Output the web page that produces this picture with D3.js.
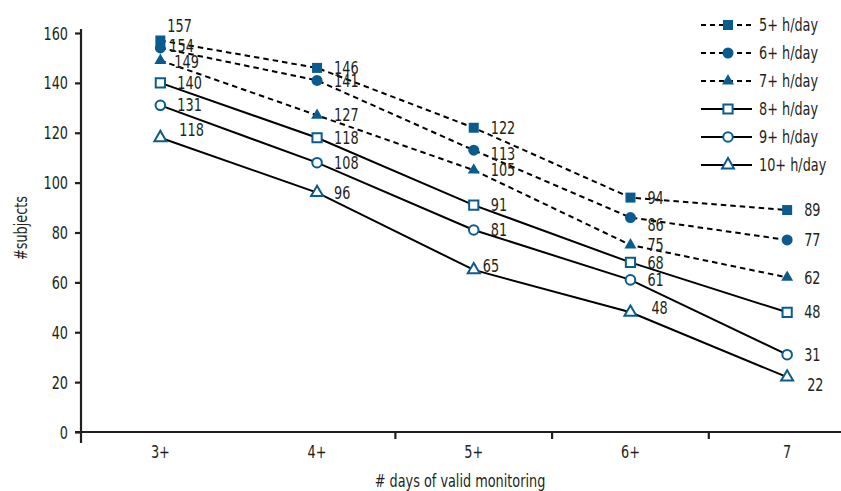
<!DOCTYPE html>
<html>
<head>
<meta charset="utf-8">
<script src="https://cdn.jsdelivr.net/npm/d3@7"></script>
<style>
  body { margin: 0; background: #fff; }
  svg { display: block; font-family: "DejaVu Sans Condensed", "Liberation Sans Narrow", sans-serif; }
</style>
</head>
<body>
<div id="chart"></div>
<script>
const categories = ["3+", "4+", "5+", "6+", "7"];
const seriesNames = ["5+ h/day", "6+ h/day", "7+ h/day", "8+ h/day", "9+ h/day", "10+ h/day"];
const s5 = [157, 146, 122, 94, 89];
const s6 = [154, 141, 113, 86, 77];
const s7 = [149, 127, 105, 75, 62];
const s8 = [140, 118, 91, 68, 48];
const s9 = [131, 108, 81, 61, 31];
const s10 = [118, 96, 65, 48, 22];
const yTicks = [0, 20, 40, 60, 80, 100, 120, 140, 160];

const allSeries = [s5, s6, s7, s8, s9, s10];

// marker style per series
const shapes = [d3.symbolSquare, d3.symbolCircle, d3.symbolTriangle, d3.symbolSquare, d3.symbolCircle, d3.symbolTriangle];
const filled = [true, true, true, false, false, false];
const dashed = [true, true, true, false, false, false];
const symSize = [100, 95, 62, 85, 72, 62];

// label nudges where labels in the original sit off the marker line ("series-point": [dx, dy])
const nudge = {
  "0-0": [-10, -15], "1-0": [-8, -2], "2-0": [-3, 1], "5-0": [2, -8],
  "1-2": [0, 4], "5-2": [-8, -4],
  "1-3": [0, 7], "5-3": [4, -4],
  "5-4": [3, 8]
};

const blue = "#0b5c8e";
const ink = "#231f20";
const squeeze = 0.84; // the original face is a narrow one

// squeeze texts horizontally around their x position
function narrow(sel, extra) {
  sel.each(function () {
    const t = d3.select(this);
    const tx = +t.attr("x") || 0, ty = +t.attr("y") || 0;
    t.attr("x", 0).attr("y", 0)
      .attr("transform", `translate(${tx},${ty}) ${extra || ""} scale(${squeeze},1)`);
  });
}

const width = 841, height = 491;
const svg = d3.select("#chart").append("svg")
  .attr("width", width)
  .attr("height", height)
  .style("font-size", "17px");

const x = d3.scaleBand()
  .domain(categories)
  .range([82, 82 + 5 * 156.7])
  .paddingInner(0).paddingOuter(0);

const y = d3.scaleLinear()
  .domain([0, 160])
  .range([432, 33]);

const cx = d => x(d) + x.bandwidth() / 2;

// y axis
const yAxis = svg.append("g")
  .attr("transform", "translate(81,0)")
  .call(d3.axisLeft(y).tickValues(yTicks).tickSize(6).tickPadding(7));
yAxis.select(".domain").attr("d", "M0,29V443").attr("stroke", ink).attr("stroke-width", 2.2);
yAxis.selectAll(".tick line").attr("stroke", ink).attr("stroke-width", 2.2);
yAxis.selectAll(".tick text")
  .attr("fill", ink).style("font-size", "17px").attr("font-family", null)
  .attr("dy", "0.36em")
  .call(narrow);
yAxis.attr("font-family", null).attr("font-size", null);

// x axis line and boundary ticks
svg.append("line")
  .attr("x1", 75).attr("x2", width).attr("y1", 432).attr("y2", 432)
  .attr("stroke", ink).attr("stroke-width", 2.2);
// boundaries between categories (original has no tick between 3+ and 4+)
svg.append("g").selectAll("line")
  .data(categories.slice(2))
  .join("line")
  .attr("x1", d => x(d)).attr("x2", d => x(d))
  .attr("y1", 432).attr("y2", 439)
  .attr("stroke", ink).attr("stroke-width", 2.2);

svg.append("g").selectAll("text")
  .data(categories)
  .join("text")
  .attr("x", d => cx(d))
  .attr("y", 458)
  .attr("text-anchor", "middle")
  .attr("fill", ink)
  .text(d => d)
  .call(narrow);

// axis titles
svg.append("text")
  .attr("x", 460).attr("y", 487)
  .attr("text-anchor", "middle")
  .attr("fill", ink)
  .text("# days of valid monitoring")
  .call(narrow);

svg.append("text")
  .attr("x", 27).attr("y", 228)
  .attr("text-anchor", "middle")
  .attr("fill", ink)
  .text("#subjects")
  .call(narrow, "rotate(-90)");

// lines
const line = d3.line()
  .x((d, i) => cx(categories[i]))
  .y(d => y(d));

svg.append("g").selectAll("path")
  .data(allSeries)
  .join("path")
  .attr("d", d => line(d))
  .attr("fill", "none")
  .attr("stroke", "#000")
  .attr("stroke-width", 2)
  .attr("stroke-dasharray", (d, i) => dashed[i] ? "5.5,4" : null);

// value labels
allSeries.forEach((vals, si) => {
  svg.append("g").selectAll("text")
    .data(vals)
    .join("text")
    .attr("x", (d, i) => cx(categories[i]) + 17 + (nudge[si + "-" + i] || [0, 0])[0])
    .attr("y", (d, i) => y(d) + (nudge[si + "-" + i] || [0, 0])[1])
    .attr("dy", "0.36em")
    .attr("fill", ink)
    .text(d => d)
    .call(narrow);
});

// markers
allSeries.forEach((vals, si) => {
  svg.append("g").selectAll("path")
    .data(vals)
    .join("path")
    .attr("transform", (d, i) => `translate(${cx(categories[i])},${y(d)})`)
    .attr("d", d3.symbol().type(shapes[si]).size(symSize[si]))
    .attr("fill", filled[si] ? blue : "#fff")
    .attr("stroke", filled[si] ? "none" : blue)
    .attr("stroke-width", 2);
});

// legend
const legend = svg.append("g").selectAll("g")
  .data(seriesNames)
  .join("g")
  .attr("transform", (d, i) => `translate(701,${25 + i * 28})`);

legend.append("line")
  .attr("x1", 0).attr("x2", 51)
  .attr("stroke", "#000")
  .attr("stroke-width", 2)
  .attr("stroke-dasharray", (d, i) => dashed[i] ? "5,4" : null);

legend.append("path")
  .attr("transform", "translate(27,0)")
  .attr("d", (d, i) => d3.symbol().type(shapes[i]).size(symSize[i])())
  .attr("fill", (d, i) => filled[i] ? blue : "#fff")
  .attr("stroke", (d, i) => filled[i] ? "none" : blue)
  .attr("stroke-width", 2);

legend.append("text")
  .attr("x", 58)
  .attr("dy", "0.36em")
  .attr("fill", ink)
  .text(d => d)
  .call(narrow);
</script>
</body>
</html>
